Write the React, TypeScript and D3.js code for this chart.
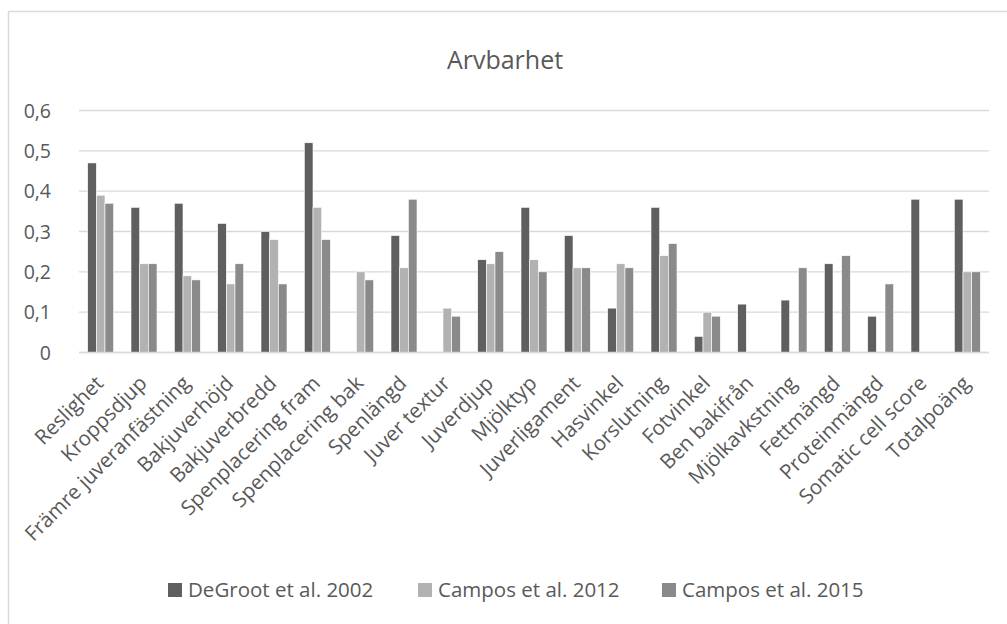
import React from "react";
import * as d3 from "d3";

const categories = [
  "Reslighet", "Kroppsdjup", "Främre juveranfästning", "Bakjuverhöjd", "Bakjuverbredd",
  "Spenplacering fram", "Spenplacering bak", "Spenlängd", "Juver textur", "Juverdjup",
  "Mjölktyp", "Juverligament", "Hasvinkel", "Korslutning", "Fotvinkel", "Ben bakifrån",
  "Mjölkavkstning", "Fettmängd", "Proteinmängd", "Somatic cell score", "Totalpoäng",
];
const seriesNames = ["DeGroot et al. 2002", "Campos et al. 2012", "Campos et al. 2015"];
const degroot2002 = [0.47, 0.36, 0.37, 0.32, 0.30, 0.52, null, 0.29, null, 0.23, 0.36, 0.29, 0.11, 0.36, 0.04, 0.12, 0.13, 0.22, 0.09, 0.38, 0.38];
const campos2012 = [0.39, 0.22, 0.19, 0.17, 0.28, 0.36, 0.20, 0.21, 0.11, 0.22, 0.23, 0.21, 0.22, 0.24, 0.10, null, null, null, null, null, 0.20];
const campos2015 = [0.37, 0.22, 0.18, 0.22, 0.17, 0.28, 0.18, 0.38, 0.09, 0.25, 0.20, 0.21, 0.21, 0.27, 0.09, null, 0.21, 0.24, 0.17, null, 0.20];
const yTicks = [0, 0.1, 0.2, 0.3, 0.4, 0.5, 0.6];
const colors = ["#5f5f5f", "#b2b2b2", "#8a8a8a"];

export default function App() {
  const W = 1007, H = 624;
  const left = 79, right = 989, top = 110.5, bottom = 352.5;
  const font = "'Open Sans', sans-serif";
  const x = d3.scaleBand<string>().domain(categories).range([left, right]).paddingInner(0).paddingOuter(0);
  const y = d3.scaleLinear().domain([0, 0.6]).range([bottom, top]);
  const groupW = x.bandwidth() * 0.6;
  const sub = d3.scaleBand<number>().domain([0, 1, 2]).range([0, groupW]);
  const data = [degroot2002, campos2012, campos2015];
  const fmt = (v: number) => (v === 0 ? "0" : d3.format(".1f")(v).replace(".", ","));
  const legendX = [168, 418, 662];

  return (
    <svg width={W} height={H} style={{ position: "absolute", left: 0, top: 0, background: "#fff" }}>
      <rect x={8.5} y={11.5} width={1100} height={700} fill="#fff" stroke="#d9d9d9" strokeWidth={1.5} />
      <text x={505} y={69} textAnchor="middle" fontFamily={font} fontSize={25} fill="#595959">Arvbarhet</text>
      {yTicks.map((t) => (
        <g key={t}>
          <line x1={left} x2={right} y1={y(t)} y2={y(t)} stroke="#d9d9d9" strokeWidth={1.3} />
          <text x={51} y={y(t) + 7} textAnchor="end" fontFamily={font} fontSize={19.5} fill="#595959">{fmt(t)}</text>
        </g>
      ))}
      {data.map((vals, si) =>
        vals.map((v, ci) =>
          v == null ? null : (
            <rect
              key={`${si}-${ci}`}
              x={(x(categories[ci]) as number) + (x.bandwidth() - groupW) / 2 + (sub(si) as number)}
              y={y(v)}
              width={sub.bandwidth()}
              height={y(0) - y(v)}
              fill={colors[si]}
              stroke="#fff"
              strokeWidth={0.6}
            />
          )
        )
      )}
      <line x1={left} x2={right} y1={y(0)} y2={y(0)} stroke="#d9d9d9" strokeWidth={1.3} />
      {categories.map((c) => {
        const cx = (x(c) as number) + x.bandwidth() / 2 + 4;
        const cy = bottom + 32;
        return (
          <text key={c} x={cx} y={cy} transform={`rotate(-45 ${cx} ${cy})`} textAnchor="end"
            fontFamily={font} fontSize={20.5} fill="#595959">{c}</text>
        );
      })}
      {seriesNames.map((s, i) => (
        <g key={s}>
          <rect x={legendX[i]} y={583} width={14} height={14} fill={colors[i]} />
          <text x={legendX[i] + 20} y={597} fontFamily={font} fontSize={20.5} fill="#595959">{s}</text>
        </g>
      ))}
    </svg>
  );
}
